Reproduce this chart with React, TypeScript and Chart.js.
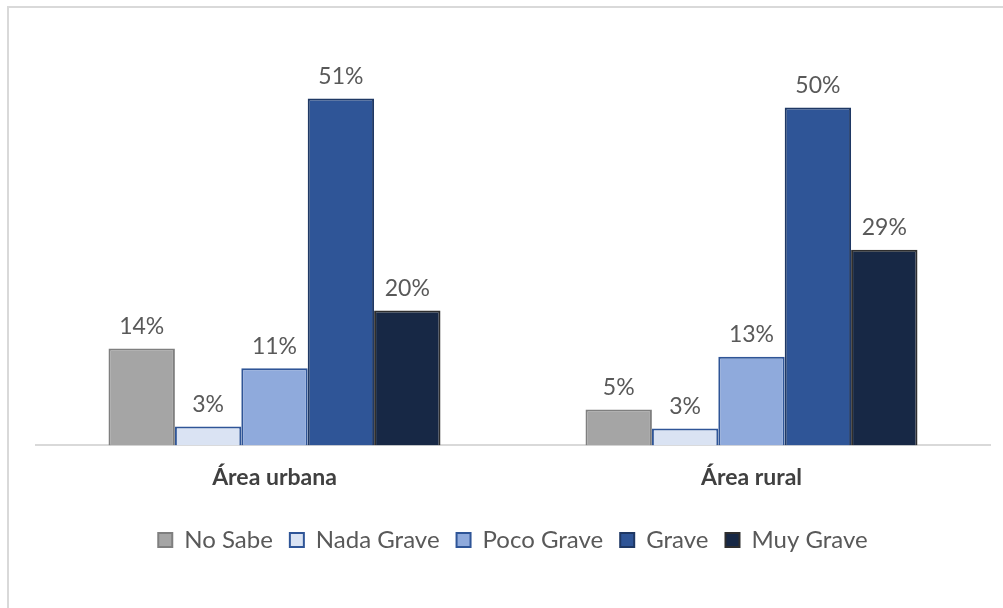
import React, { useEffect, useRef } from "react";
import { Chart, registerables } from "chart.js";

Chart.register(...registerables);

const categories = ["Área urbana", "Área rural"];
const seriesNames = ["No Sabe", "Nada Grave", "Poco Grave", "Grave", "Muy Grave"];
const noSabe = [14.3, 5.3];
const nadaGrave = [2.8, 2.5];
const pocoGrave = [11.4, 13.1];
const grave = [51.2, 49.9];
const muyGrave = [19.9, 28.9];
const fills = ["#A5A5A5", "#DAE3F3", "#8FAADC", "#2F5597", "#172845"];
const borders = ["#7F7F7F", "#2F5597", "#2F5597", "#1F3864", "#2E2E2E"];

const FONT = "Lato, 'Open Sans', sans-serif";

const dataLabels = {
  id: "dataLabels",
  afterDatasetsDraw(chart: any) {
    const ctx = chart.ctx;
    ctx.save();
    ctx.font = `23px ${FONT}`;
    ctx.fillStyle = "#595959";
    ctx.textAlign = "center";
    ctx.textBaseline = "middle";
    chart.data.datasets.forEach((ds: any, i: number) => {
      const meta = chart.getDatasetMeta(i);
      meta.data.forEach((el: any, j: number) => {
        const v = ds.data[j];
        ctx.fillText(Math.round(v) + "%", el.x, el.y - 22);
      });
    });
    ctx.restore();
  },
};

export default function App() {
  const ref = useRef<HTMLCanvasElement>(null);
  useEffect(() => {
    const values = [noSabe, nadaGrave, pocoGrave, grave, muyGrave];
    const chart = new Chart(ref.current as HTMLCanvasElement, {
      type: "bar",
      data: {
        labels: categories,
        datasets: seriesNames.map((name, i) => ({
          label: name,
          data: values[i],
          backgroundColor: fills[i],
          borderColor: borders[i],
          borderWidth: 2,
          borderSkipped: "bottom",
          barPercentage: 1,
          categoryPercentage: 0.696,
        })),
      },
      options: {
        animation: false,
        responsive: false,
        maintainAspectRatio: false,
        layout: { padding: { left: 36, right: 13, top: 39, bottom: 46 } },
        plugins: {
          tooltip: { enabled: false },
          legend: {
            position: "bottom",
            labels: {
              boxWidth: 14,
              boxHeight: 14,
              padding: 17,
              color: "#595959",
              font: { family: FONT, size: 24 },
            },
          },
        },
        scales: {
          x: {
            grid: { display: false, drawTicks: false },
            border: { display: true, color: "#D9D9D9", width: 2 },
            ticks: {
              color: "#404040",
              padding: 18,
              font: { family: FONT, size: 23, weight: "bold" },
            },
            afterFit: (scale: any) => {
              scale.height += 2;
            },
          },
          y: {
            display: false,
            min: 0,
            max: 60,
          },
        },
      },
      plugins: [dataLabels],
    });
    return () => chart.destroy();
  }, []);
  return (
    <div style={{ position: "fixed", left: 0, top: 0, width: 1003, height: 608, background: "#fff", overflow: "hidden" }}>
      <div
        style={{
          position: "absolute",
          left: 7,
          top: 6,
          width: 1200,
          height: 800,
          borderTop: "2px solid #D9D9D9",
          borderLeft: "2px solid #D9D9D9",
        }}
      />
      <canvas ref={ref} width={1003} height={608} style={{ position: "absolute", left: 0, top: 0 }} />
    </div>
  );
}
